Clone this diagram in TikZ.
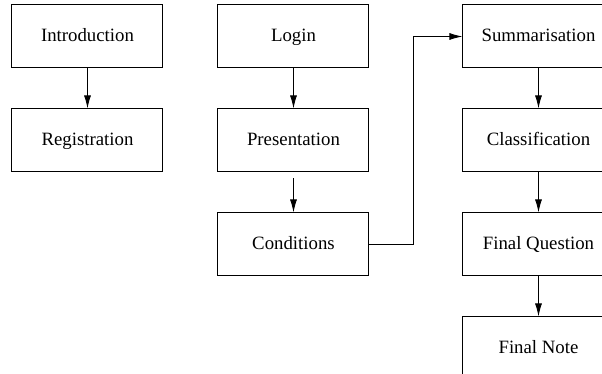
\documentclass[tikz,border=0pt]{standalone}
\usepackage{fontspec}
\setmainfont{Liberation Serif}
\usetikzlibrary{positioning,arrows.meta}

\begin{document}
\begin{tikzpicture}[x=0.5pt,y=0.5pt,
  stage/.style={draw,line width=0.5pt,minimum width=75.5pt,minimum height=31.5pt,
    inner sep=0pt,text height=1.6ex,text depth=0.45ex,font=\fontsize{9.4}{11}\selectfont},
  flow/.style={-{Latex[length=6.5pt,width=3.5pt]},line width=0.5pt}]
\clip (0,0) rectangle (602,-374);
\useasboundingbox (0,0) rectangle (602,-374);
\node[stage] (intro) at (87.5,-36.5) {Introduction};
\node[stage,below=20pt of intro] (reg) {Registration};
\node[stage,right=27pt of intro] (login) {Login};
\node[stage,below=20pt of login] (pres) {Presentation};
\node[stage,below=20pt of pres] (cond) {Conditions};
\node[stage,right=46.5pt of login] (summ) {Summarisation};
\node[stage,below=20pt of summ] (class) {Classification};
\node[stage,below=20pt of class] (fquest) {Final Question};
\node[stage,below=20pt of fquest] (fnote) {Final Note};
\draw[flow] (intro) -- (reg);
\draw[flow] (login) -- (pres);
\draw[flow,shorten <=3pt] (pres) -- (cond);
\draw[flow] (cond.east) -- ++(44,0) |- (summ.west);
\draw[flow] (summ) -- (class);
\draw[flow] (class) -- (fquest);
\draw[flow] (fquest) -- (fnote);
\end{tikzpicture}
\end{document}
